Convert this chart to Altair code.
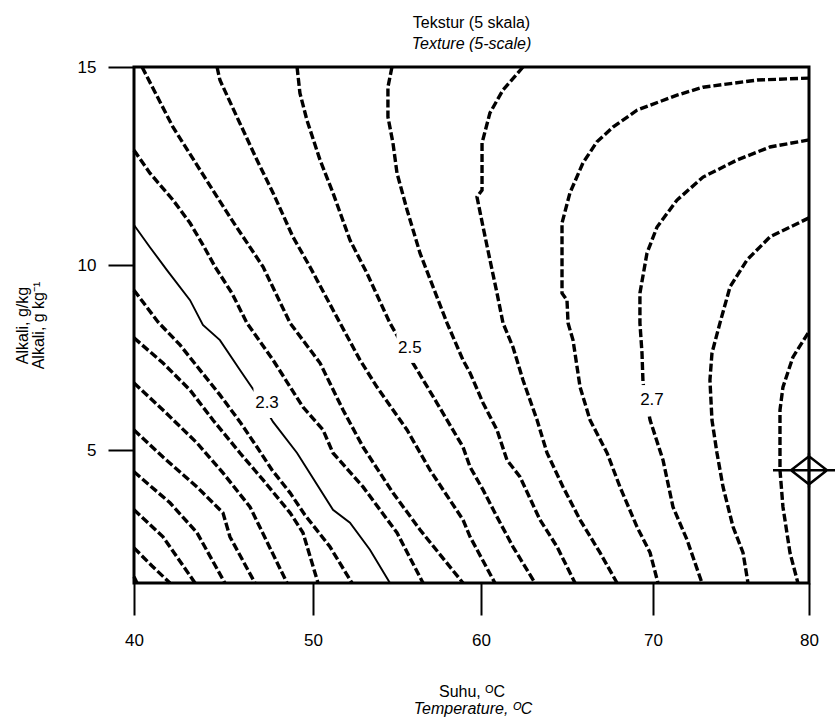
import altair as alt
import pandas as pd

FONT = "Liberation Sans, Arial, sans-serif"

# Contour levels of texture score (5-scale)
levels = [1.90, 1.95, 2.00, 2.05, 2.10, 2.15, 2.20, 2.25, 2.30, 2.35,
          2.40, 2.45, 2.50, 2.55, 2.60, 2.65, 2.70, 2.75, 2.80]

# Traced contour paths: (Suhu / Temperature degC, Alkali g/kg), read against the figure's own ticks
c190 = [(40.00, 1.57), (40.17, 1.40)]
c195 = [(40.00, 2.35), (41.01, 1.86), (42.01, 1.40)]
c200 = [(40.00, 3.38), (41.62, 2.65), (43.41, 1.40)]
c205 = [(40.00, 4.41), (42.01, 3.57), (43.52, 2.76), (45.08, 1.40)]
c210 = [(40.00, 5.54), (41.62, 4.81), (43.52, 4.00), (44.97, 3.30), (45.36, 2.65), (46.76, 1.40)]
c215 = [(40.00, 6.81), (41.62, 6.08), (43.52, 5.19), (44.97, 4.38), (46.48, 3.46), (48.55, 1.40)]
c220 = [(40.00, 8.03), (41.62, 7.35), (43.13, 6.62), (44.41, 5.81), (45.92, 4.92), (47.21, 4.19),
        (48.72, 3.30), (49.44, 2.76), (50.30, 1.40)]
c225 = [(40.00, 9.32), (41.34, 8.46), (42.57, 7.84), (43.69, 7.16), (44.80, 6.49), (45.92, 5.76),
        (46.87, 5.08), (47.71, 4.46), (48.72, 3.84), (49.55, 3.24), (51.01, 2.38), (52.32, 1.40)]
c230 = [(40.00, 11.01), (40.89, 10.45), (41.84, 9.86), (43.13, 9.05), (43.85, 8.38), (44.80, 7.97),
        (45.92, 7.16), (46.76, 6.57), (47.77, 5.76), (49.11, 4.92), (51.19, 3.38), (52.20, 3.03),
        (53.39, 2.30), (54.58, 1.40)]
c235 = [(40.00, 12.90), (40.89, 12.32), (42.18, 11.64), (43.13, 11.06), (43.85, 10.51), (44.53, 9.95),
        (45.47, 9.24), (46.31, 8.43), (47.77, 7.43), (49.44, 6.16), (50.60, 5.54), (51.19, 4.92),
        (52.98, 4.00), (55.00, 2.76), (56.55, 1.40)]
c240 = [(40.45, 15.00), (42.18, 13.48), (43.69, 12.40), (45.36, 11.21), (47.21, 9.95), (48.72, 8.43),
        (50.42, 7.35), (51.79, 6.08), (52.98, 5.08), (54.76, 3.84), (56.37, 2.84), (58.93, 1.40)]
c245 = [(44.64, 15.00), (44.80, 14.67), (45.75, 13.74), (46.87, 12.65), (47.77, 11.82), (48.88, 10.71),
        (49.83, 9.95), (51.61, 8.43), (52.80, 7.43), (53.81, 6.70), (55.60, 5.54), (56.96, 4.46),
        (58.93, 3.11), (59.35, 2.65), (60.81, 1.40)]
c250 = [(49.11, 15.00), (49.27, 14.34), (49.66, 13.66), (50.42, 12.65), (51.19, 11.82), (52.20, 10.63),
        (53.21, 9.78), (54.58, 8.43), (55.95, 7.35), (57.38, 6.27), (58.93, 5.08), (59.35, 4.54),
        (60.12, 3.92), (60.93, 3.19), (61.86, 2.38), (63.14, 1.40)]
c255 = [(54.70, 15.00), (54.46, 14.49), (54.46, 13.74), (54.76, 13.08), (55.00, 12.32), (55.60, 11.39),
        (56.37, 10.30), (57.98, 8.43), (58.93, 7.43), (59.35, 7.08), (60.12, 6.27), (60.93, 5.54),
        (61.51, 4.73), (62.27, 4.27), (63.43, 3.11), (64.42, 2.38), (65.47, 1.40)]
c260 = [(62.44, 15.00), (61.28, 14.42), (60.52, 13.84), (60.06, 13.08), (60.06, 11.89), (59.76, 11.72),
        (60.12, 10.96), (60.52, 10.13), (60.93, 9.24), (61.28, 8.43), (61.86, 7.78), (62.44, 6.89),
        (63.26, 5.81), (63.84, 4.92), (64.77, 4.00), (65.76, 3.11), (66.92, 2.22), (67.91, 1.40)]
c265 = [(80.00, 14.72), (76.67, 14.67), (73.21, 14.49), (71.54, 14.29), (69.07, 13.91), (67.67, 13.48),
        (66.74, 13.11), (65.93, 12.58), (65.17, 11.82), (64.71, 11.06), (64.71, 9.24), (65.00, 9.05),
        (65.06, 8.43), (65.35, 7.97), (65.76, 6.70), (66.34, 5.81), (67.33, 4.92), (68.08, 4.00),
        (69.07, 2.92), (69.83, 2.22), (70.32, 1.40)]
c270 = [(80.00, 13.16), (77.50, 12.98), (75.38, 12.65), (73.21, 12.22), (71.54, 11.64), (70.26, 10.96),
        (69.65, 10.30), (69.24, 9.24), (69.24, 8.43), (69.36, 7.62), (69.42, 6.81), (69.83, 5.81),
        (70.64, 4.73), (71.28, 3.46), (72.18, 2.57), (73.14, 1.40)]
c275 = [(80.00, 11.19), (77.50, 10.71), (76.03, 10.13), (74.94, 9.41), (74.29, 8.43), (73.78, 7.62),
        (73.65, 6.89), (73.78, 5.81), (74.10, 4.92), (74.49, 4.00), (75.13, 2.92), (75.77, 2.22),
        (76.09, 1.40)]
c280 = [(79.94, 8.16), (78.97, 7.51), (78.33, 6.70), (78.14, 6.08), (78.14, 4.46), (78.33, 3.46),
        (78.78, 2.22), (79.29, 1.40)]

paths = [c190, c195, c200, c205, c210, c215, c220, c225, c230, c235,
         c240, c245, c250, c255, c260, c265, c270, c275, c280]
solid_level = 2.30

# Contour labels
label_text = ["2.3", "2.5", "2.7"]
label_suhu = [47.43, 55.77, 69.94]
label_alkali = [6.27, 7.76, 6.35]

# Optimum point marker
opt_suhu = [80.0]
opt_alkali = [4.45]

# Axis ticks as printed (the figure's axes are slightly uneven, so the scales are piecewise)
x_ticks = [40, 50, 60, 70, 80]
x_tick_px = [0, 179, 347, 519, 675]
y_stops = [1.4, 5, 10, 15]
y_stop_px = [516, 383, 198, 0]
y_ticks = [5, 10, 15]

rows = []
for lvl, path in zip(levels, paths):
    for i, (t, a) in enumerate(path):
        rows.append({"level": lvl, "idx": i, "suhu": t, "alkali": a,
                     "solid": abs(lvl - solid_level) < 1e-9})
df = pd.DataFrame(rows)
df_dash = df[~df["solid"]]
df_solid = df[df["solid"]]
df_lab = pd.DataFrame({"suhu": label_suhu, "alkali": label_alkali, "txt": label_text})
df_opt = pd.DataFrame({"suhu": opt_suhu, "alkali": opt_alkali})
df_t2 = pd.DataFrame({"t": ["Temperature, \u1d3cC"]})

x_enc = alt.X("suhu:Q",
              scale=alt.Scale(domain=x_ticks, range=x_tick_px, nice=False, zero=False),
              axis=alt.Axis(values=x_ticks, tickSize=32, labelPadding=17, labelFlush=False,
                            labelFontSize=17,
                            title="Suhu, \u1d3cC", titleY=113, titleBaseline="alphabetic",
                            titleFontStyle="normal"))
y_enc = alt.Y("alkali:Q",
              scale=alt.Scale(domain=y_stops, range=y_stop_px, nice=False, zero=False),
              axis=alt.Axis(values=y_ticks, tickSize=26, labelPadding=12, labelFlush=False,
                            labelFontSize=17,
                            title=["Alkali, g/kg", "Alkali, g kg\u207b\u00b9"],
                            titleAngle=270, titleX=-107, titleY=258, titleAlign="center",
                            titleBaseline="alphabetic", titleLineHeight=16))

dashed = alt.Chart(df_dash).mark_line(color="black", strokeWidth=3.4, strokeDash=[8, 3],
                                      strokeCap="butt").encode(
    x=x_enc, y=y_enc, detail="level:N", order="idx:Q")

solid = alt.Chart(df_solid).mark_line(color="black", strokeWidth=1.9).encode(
    x=x_enc, y=y_enc, detail="level:N", order="idx:Q")

masks = alt.Chart(df_lab).mark_point(
    shape="M -0.9 -1 L 0.9 -1 L 0.9 1 L -0.9 1 Z", filled=True, color="white",
    size=900, opacity=1, strokeWidth=0).encode(x=x_enc, y=y_enc)

labels = alt.Chart(df_lab).mark_text(font=FONT, fontSize=17, color="black",
                                     baseline="middle", align="center").encode(
    x=x_enc, y=y_enc, text="txt:N")

marker = alt.Chart(df_opt).mark_point(
    shape="M -1 0 L 0 -0.78 L 1 0 L 0 0.78 Z M -2 0 L 2 0 M 0 -0.95 L 0 0.95",
    filled=False, color="black", size=1296, strokeWidth=2.5, opacity=1).encode(x=x_enc, y=y_enc)

xtitle2 = alt.Chart(df_t2).mark_text(font=FONT, fontSize=16, fontStyle="italic", color="black",
                                     align="center", baseline="alphabetic").encode(
    x=alt.value(339), y=alt.value(647), text="t:N")

chart = alt.layer(dashed, solid, masks, labels, marker, xtitle2).properties(
    width=675, height=516,
    autosize=alt.AutoSizeParams(type="none"),
    padding={"left": 134, "top": 67, "right": 26, "bottom": 138},
    title=alt.TitleParams(text="Tekstur (5 skala)", subtitle="Texture (5-scale)",
                          font=FONT, fontSize=16, fontWeight="normal", color="black",
                          subtitleFont=FONT, subtitleFontSize=16, subtitleFontStyle="italic",
                          subtitleColor="black", subtitlePadding=5, anchor="middle", offset=6),
).configure_view(stroke="black", strokeWidth=3).configure_axis(
    grid=False, domain=False, tickColor="black", tickWidth=2, labelColor="black",
    labelFont=FONT, titleColor="black", titleFont=FONT, titleFontSize=16,
    titleFontWeight="normal")

chart.save("out.html", embed_options={"renderer": "svg", "actions": False})
